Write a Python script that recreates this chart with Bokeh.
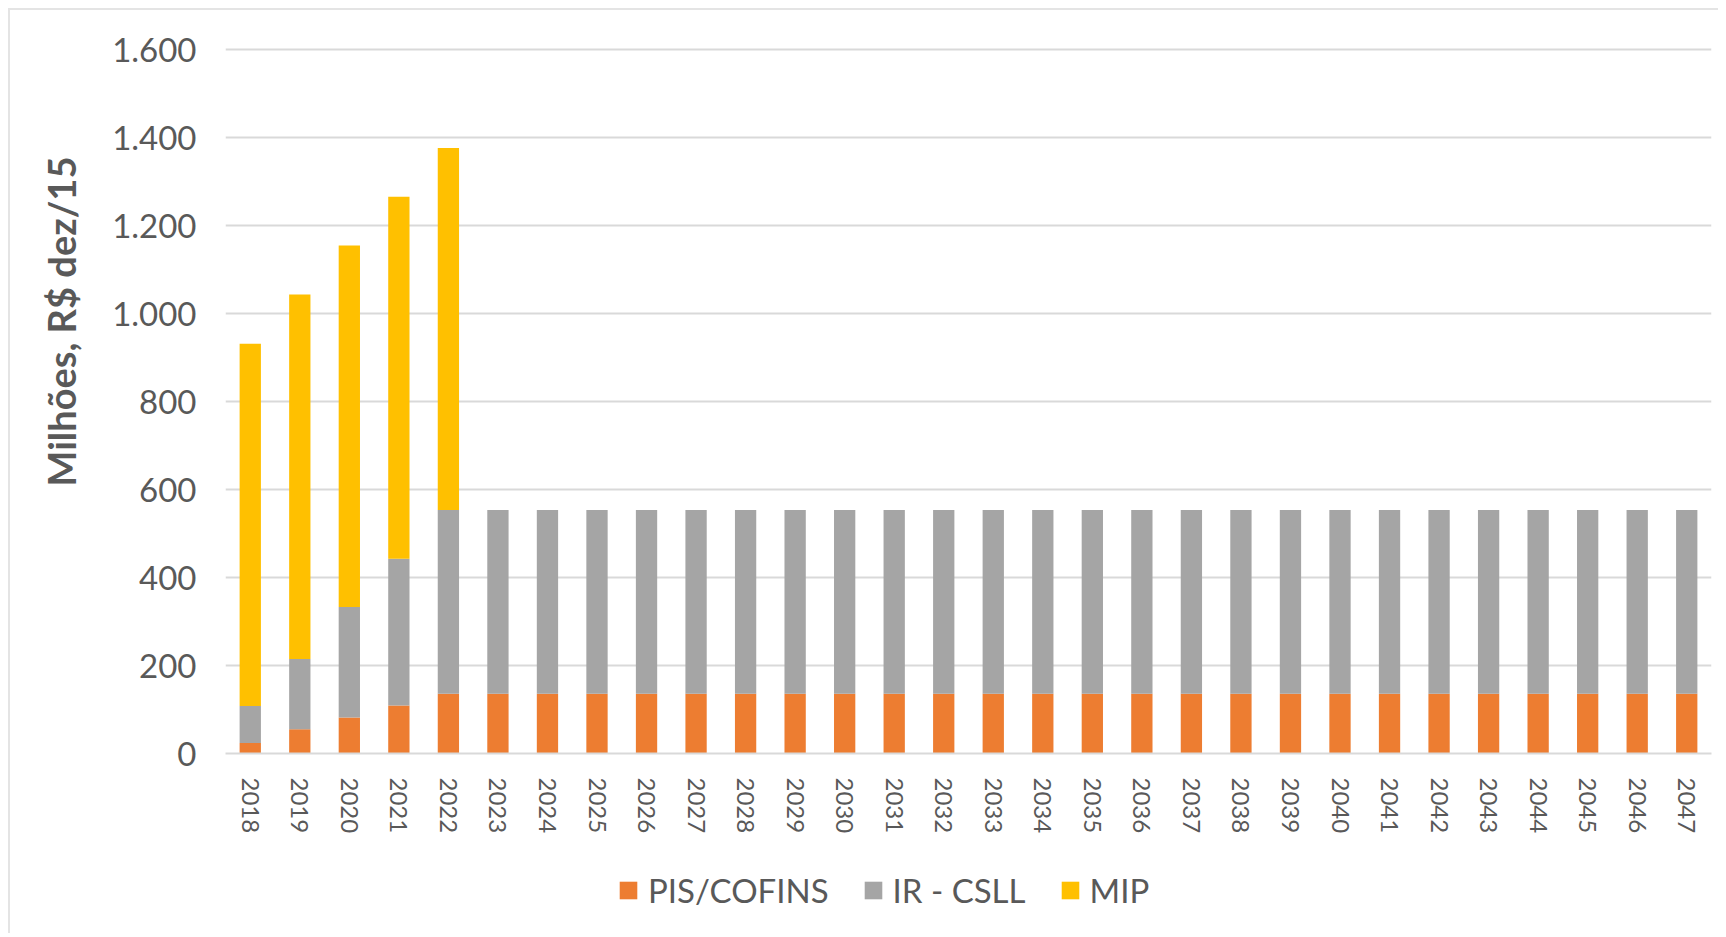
from bokeh.plotting import figure
from bokeh.layouts import column
from bokeh.models import Range1d, FactorRange, FixedTicker, Legend, LegendItem, Title
from bokeh.embed import file_html
from bokeh.resources import INLINE

years = ["2018", "2019", "2020", "2021", "2022", "2023", "2024", "2025", "2026", "2027",
         "2028", "2029", "2030", "2031", "2032", "2033", "2034", "2035", "2036", "2037",
         "2038", "2039", "2040", "2041", "2042", "2043", "2044", "2045", "2046", "2047"]
pis_cofins = [24, 55, 82, 109, 136, 136, 136, 136, 136, 136,
              136, 136, 136, 136, 136, 136, 136, 136, 136, 136,
              136, 136, 136, 136, 136, 136, 136, 136, 136, 136]
ir_csll = [84, 160, 251, 334, 418, 418, 418, 418, 418, 418,
           418, 418, 418, 418, 418, 418, 418, 418, 418, 418,
           418, 418, 418, 418, 418, 418, 418, 418, 418, 418]
mip = [824, 829, 822, 823, 823, 0, 0, 0, 0, 0,
       0, 0, 0, 0, 0, 0, 0, 0, 0, 0,
       0, 0, 0, 0, 0, 0, 0, 0, 0, 0]
series_names = ["PIS/COFINS", "IR - CSLL", "MIP"]
series_colors = ["#ED7D31", "#A5A5A5", "#FFC000"]
y_ticks = [0, 200, 400, 600, 800, 1000, 1200, 1400, 1600]
y_tick_labels = ["0", "200", "400", "600", "800", "1.000", "1.200", "1.400", "1.600"]
y_label = "Milhões, R$ dez/15"

TEXT = "#595959"
GRID = "#D9D9D9"
FONT = "Lato"

data = {"years": years, "PIS/COFINS": pis_cofins, "IR - CSLL": ir_csll, "MIP": mip}

# main chart
p = figure(width=1708, height=826, output_backend="svg", toolbar_location=None,
           x_range=FactorRange(factors=years, range_padding=0),
           y_range=Range1d(0, 1610),
           min_border_left=215, min_border_right=7, min_border_top=35, min_border_bottom=83)
p.outline_line_color = None
p.background_fill_color = "white"
p.border_fill_color = "white"

p.vbar_stack(series_names, x="years", width=0.43, color=series_colors,
             line_color=None, source=data)

p.xgrid.grid_line_color = None
p.ygrid.grid_line_color = GRID
p.ygrid.grid_line_width = 2

p.yaxis.ticker = FixedTicker(ticks=y_ticks)
p.yaxis.major_label_overrides = {t: l for t, l in zip(y_ticks, y_tick_labels)}
p.yaxis.axis_line_color = None
p.yaxis.major_tick_line_color = None
p.yaxis.minor_tick_line_color = None
p.yaxis.major_tick_out = 0
p.yaxis.major_tick_in = 0
p.yaxis.major_label_text_font = FONT
p.yaxis.major_label_text_font_size = "33px"
p.yaxis.major_label_text_color = TEXT
p.yaxis.major_label_standoff = 29

p.xaxis.axis_line_color = GRID
p.xaxis.axis_line_width = 2
p.xaxis.major_tick_line_color = None
p.xaxis.minor_tick_line_color = None
p.xaxis.major_tick_out = 0
p.xaxis.major_tick_in = 0
p.xaxis.major_label_orientation = "vertical"
p.xaxis.major_label_text_font = FONT
p.xaxis.major_label_text_font_size = "24px"
p.xaxis.major_label_text_color = TEXT
p.xaxis.major_label_standoff = 24

ytitle = Title(text=y_label, align="left", offset=267, standoff=51,
               text_font=FONT, text_font_style="bold", text_font_size="38px",
               text_color=TEXT)
p.add_layout(ytitle, "left")

# legend strip below the chart
lg = figure(width=1708, height=97, output_backend="svg", toolbar_location=None,
            x_range=FactorRange(factors=years), y_range=Range1d(0, 1),
            x_axis_location=None, y_axis_location=None, min_border=0)
lg.outline_line_color = None
lg.grid.grid_line_color = None
lg.background_fill_color = "white"
lg.border_fill_color = "white"
lg_renderers = lg.vbar_stack(series_names, x="years", width=0.43, color=series_colors,
                             line_color=None, source=data)
for r in lg_renderers:
    r.visible = False

legend = Legend(items=[LegendItem(label=n, renderers=[r]) for n, r in zip(series_names, lg_renderers)],
                orientation="horizontal", location=(392, 23),
                glyph_width=22, glyph_height=22, label_standoff=9, spacing=33,
                padding=0, margin=0, border_line_color=None, background_fill_alpha=0,
                label_text_font=FONT, label_text_font_size="33px", label_text_color=TEXT)
lg.add_layout(legend, "center")

layout = column(p, lg, spacing=0)
layout.styles = {"margin-left": "8px", "margin-top": "8px",
                 "border-top": "2px solid #E4E4E4", "border-left": "2px solid #E4E4E4"}

open("out.html", "w").write(file_html(layout, INLINE))
